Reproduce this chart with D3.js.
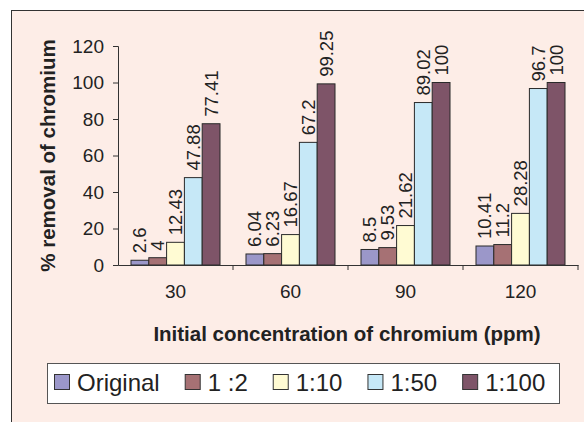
<!DOCTYPE html>
<html>
<head>
<meta charset="utf-8">
<script src="https://cdn.jsdelivr.net/npm/d3@7"></script>
<style>
  body { margin: 0; background: #fff; }
  svg { display: block; font-family: "Liberation Sans", Arial, sans-serif; }
</style>
</head>
<body>
<svg width="584" height="422"></svg>
<script>
const categories = ['30', '60', '90', '120'];
const seriesNames = ['Original', '1 :2', '1:10', '1:50', '1:100'];
const seriesColors = ['#9b97c9', '#a67174', '#fffbd3', '#c6e8f7', '#7e5468'];
const original = [2.6, 6.04, 8.5, 10.41];
const ratio2 = [4, 6.23, 9.53, 11.2];
const ratio10 = [12.43, 16.67, 21.62, 28.28];
const ratio50 = [47.88, 67.2, 89.02, 96.7];
const ratio100 = [77.41, 99.25, 100, 100];
const yTicks = [0, 20, 40, 60, 80, 100, 120];

const seriesValues = [original, ratio2, ratio10, ratio50, ratio100];
const bars = [];
categories.forEach((c, ci) => {
    seriesNames.forEach((s, si) => {
        bars.push({ cat: c, series: s, value: seriesValues[si][ci], color: seriesColors[si] });
    });
});

const svg = d3.select('svg');

// panel background and the two visible border lines
svg.append('rect').attr('x', 11).attr('y', 10).attr('width', 573).attr('height', 412).attr('fill', '#fdede7');
svg.append('line').attr('x1', 11).attr('x2', 584).attr('y1', 10.5).attr('y2', 10.5).attr('stroke', '#333');
svg.append('line').attr('x1', 11.5).attr('x2', 11.5).attr('y1', 10).attr('y2', 422).attr('stroke', '#333');

const plotLeft = 118, plotRight = 578, plotTop = 46, plotBottom = 265;

const x0 = d3.scaleBand().domain(categories).range([plotLeft, plotRight]).padding(0);
const x1 = d3.scaleBand().domain(seriesNames).range([0, x0.bandwidth()]).paddingInner(0).paddingOuter(0.73);
const y = d3.scaleLinear().domain([0, 120]).range([plotBottom, plotTop]);

// bars
svg.append('g').selectAll('rect')
    .data(bars)
    .enter()
    .append('rect')
    .attr('x', d => x0(d.cat) + x1(d.series))
    .attr('y', d => y(d.value))
    .attr('width', x1.bandwidth())
    .attr('height', d => y(0) - y(d.value))
    .attr('fill', d => d.color)
    .attr('stroke', '#2a2a2a')
    .attr('stroke-width', 1);

// data labels, rotated
svg.append('g').selectAll('text')
    .data(bars)
    .enter()
    .append('text')
    .attr('transform', d => `translate(${x0(d.cat) + x1(d.series) + x1.bandwidth() / 2},${y(d.value) - 7}) rotate(-90)`)
    .attr('dominant-baseline', 'central')
    .attr('font-size', 18.5)
    .attr('fill', '#222')
    .text(d => d.value);

// y axis
const yAxis = svg.append('g')
    .attr('transform', `translate(${plotLeft},0)`)
    .call(d3.axisLeft(y).tickValues(yTicks).tickSize(5).tickPadding(9));
yAxis.select('.domain').attr('stroke', '#333');
yAxis.selectAll('line').attr('stroke', '#333');
yAxis.selectAll('text').attr('font-size', 19).attr('fill', '#222').attr('font-family', null);

// x axis: labels at band centres, ticks at band edges
const xAxis = svg.append('g')
    .attr('transform', `translate(0,${plotBottom})`)
    .call(d3.axisBottom(x0).tickSize(0).tickPadding(20).tickSizeOuter(0));
xAxis.select('.domain').attr('stroke', '#333');
xAxis.selectAll('text').attr('font-size', 19).attr('fill', '#222').attr('font-family', null);
xAxis.selectAll('line.edge')
    .data(categories)
    .enter()
    .append('line')
    .attr('class', 'edge')
    .attr('x1', d => x0(d) + x0.bandwidth())
    .attr('x2', d => x0(d) + x0.bandwidth())
    .attr('y1', 0)
    .attr('y2', 5)
    .attr('stroke', '#333');

// axis titles
svg.append('text')
    .attr('transform', `translate(47,${(plotTop + plotBottom) / 2}) rotate(-90)`)
    .attr('text-anchor', 'middle')
    .attr('dominant-baseline', 'central')
    .attr('font-size', 20.5)
    .attr('font-weight', 'bold')
    .attr('fill', '#222')
    .text('% removal of chromium');

svg.append('text')
    .attr('x', 347)
    .attr('y', 341)
    .attr('text-anchor', 'middle')
    .attr('font-size', 20.5)
    .attr('font-weight', 'bold')
    .attr('fill', '#222')
    .text('Initial concentration of chromium (ppm)');

// legend
const legend = svg.append('g');
legend.append('rect')
    .attr('x', 47.5).attr('y', 363.5).attr('width', 512).attr('height', 40)
    .attr('fill', '#fff').attr('stroke', '#555');
let lx = 54;
seriesNames.forEach((s, i) => {
    legend.append('rect')
        .attr('x', lx + 0.5).attr('y', 374.5).attr('width', 15).attr('height', 15)
        .attr('fill', seriesColors[i]).attr('stroke', '#333');
    const t = legend.append('text')
        .attr('x', lx + 23).attr('y', 391)
        .attr('font-size', 24)
        .attr('fill', '#222')
        .text(s);
    lx = lx + 23 + t.node().getComputedTextLength() + 25;
});
</script>
</body>
</html>
